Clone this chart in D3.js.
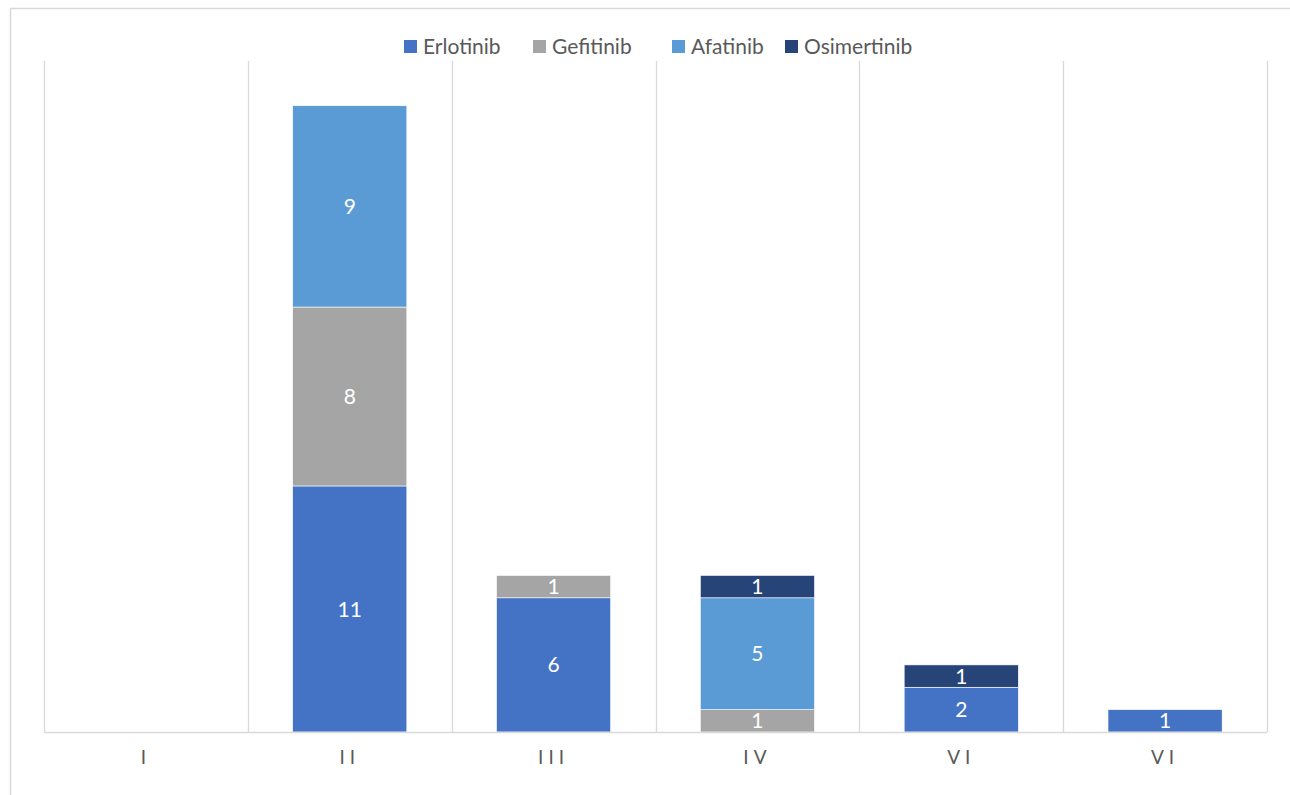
<!DOCTYPE html>
<html>
<head>
<meta charset="utf-8">
<script src="https://cdn.jsdelivr.net/npm/d3@7"></script>
<style>
  body { margin: 0; background: #fff; }
  svg { display: block; font-family: Lato, "Open Sans", sans-serif; }
</style>
</head>
<body>
<script>
const WIDTH = 1290;
const HEIGHT = 795;
const GRID = '#D9D9D9';
const LABEL = '#595959';

// data
const categories = ['I', 'II', 'III', 'IV', 'VI', 'VI'];
const seriesNames = ['Erlotinib', 'Gefitinib', 'Afatinib', 'Osimertinib'];
const erlotinib = [0, 11, 6, 0, 2, 1];
const gefitinib = [0, 8, 1, 1, 0, 0];
const afatinib = [0, 9, 0, 5, 0, 0];
const osimertinib = [0, 0, 0, 1, 1, 0];
const colors = ['#4472C4', '#A5A5A5', '#5B9BD5', '#264478'];

const rows = categories.map((c, i) => ({
  idx: i,
  Erlotinib: erlotinib[i],
  Gefitinib: gefitinib[i],
  Afatinib: afatinib[i],
  Osimertinib: osimertinib[i]
}));

const plot = { left: 44, right: 1267, top: 61, bottom: 732 };

const svg = d3.select('body').append('svg')
  .attr('width', WIDTH)
  .attr('height', HEIGHT);

// chart border
svg.append('rect')
  .attr('x', 10.5).attr('y', 8.5)
  .attr('width', WIDTH + 20).attr('height', HEIGHT + 20)
  .attr('fill', '#fff')
  .attr('stroke', GRID)
  .attr('stroke-width', 1.5);

const x = d3.scaleBand()
  .domain(d3.range(categories.length))
  .range([plot.left, plot.right])
  .paddingInner(0.44)
  .paddingOuter(0.22);

const y = d3.scaleLinear()
  .domain([0, 30])
  .range([plot.bottom, plot.top]);

// vertical gridlines on category boundaries
const step = x.step();
const bounds = d3.range(categories.length + 1).map(i => plot.left + i * step);
svg.append('g').selectAll('line')
  .data(bounds)
  .join('line')
  .attr('x1', d => Math.round(d) + 0.5).attr('x2', d => Math.round(d) + 0.5)
  .attr('y1', plot.top).attr('y2', plot.bottom)
  .attr('stroke', GRID)
  .attr('stroke-width', 1.3);

const stack = d3.stack().keys(seriesNames)(rows);

const layers = svg.append('g').selectAll('g')
  .data(stack)
  .join('g')
  .attr('fill', (d, i) => colors[i]);

layers.selectAll('rect')
  .data(d => d.filter(p => p[1] - p[0] > 0))
  .join('rect')
  .attr('x', p => x(p.data.idx))
  .attr('width', x.bandwidth())
  .attr('y', p => y(p[1]))
  .attr('height', p => y(p[0]) - y(p[1]))
  .attr('stroke', '#fff')
  .attr('stroke-width', 0.6);

layers.selectAll('text')
  .data(d => d.filter(p => p[1] - p[0] > 0))
  .join('text')
  .attr('x', p => x(p.data.idx) + x.bandwidth() / 2)
  .attr('y', p => (y(p[0]) + y(p[1])) / 2)
  .attr('dy', '0.36em')
  .attr('text-anchor', 'middle')
  .attr('fill', '#fff')
  .attr('font-size', 21)
  .text(p => p[1] - p[0]);

// x axis
const xAxis = svg.append('g')
  .attr('transform', `translate(0,${plot.bottom})`)
  .call(d3.axisBottom(x).tickSize(0).tickPadding(19).tickFormat(i => categories[i]));
xAxis.select('.domain')
  .attr('stroke', GRID)
  .attr('stroke-width', 1.5)
  .attr('d', `M${plot.left},0.5H${plot.right}`);
xAxis.selectAll('text')
  .attr('fill', LABEL)
  .attr('font-size', 19)
  .attr('font-family', 'Lato, "Open Sans", sans-serif')
  .attr('letter-spacing', 5);

// legend
const legendX = [404, 533, 672, 785];
const legend = svg.append('g').selectAll('g')
  .data(seriesNames)
  .join('g')
  .attr('transform', (d, i) => `translate(${legendX[i]},40)`);
legend.append('rect')
  .attr('width', 13).attr('height', 13)
  .attr('fill', (d, i) => colors[i]);
legend.append('text')
  .attr('x', 19).attr('y', 6.5)
  .attr('dy', '0.36em')
  .attr('fill', LABEL)
  .attr('font-size', 21)
  .text(d => d);
</script>
</body>
</html>
